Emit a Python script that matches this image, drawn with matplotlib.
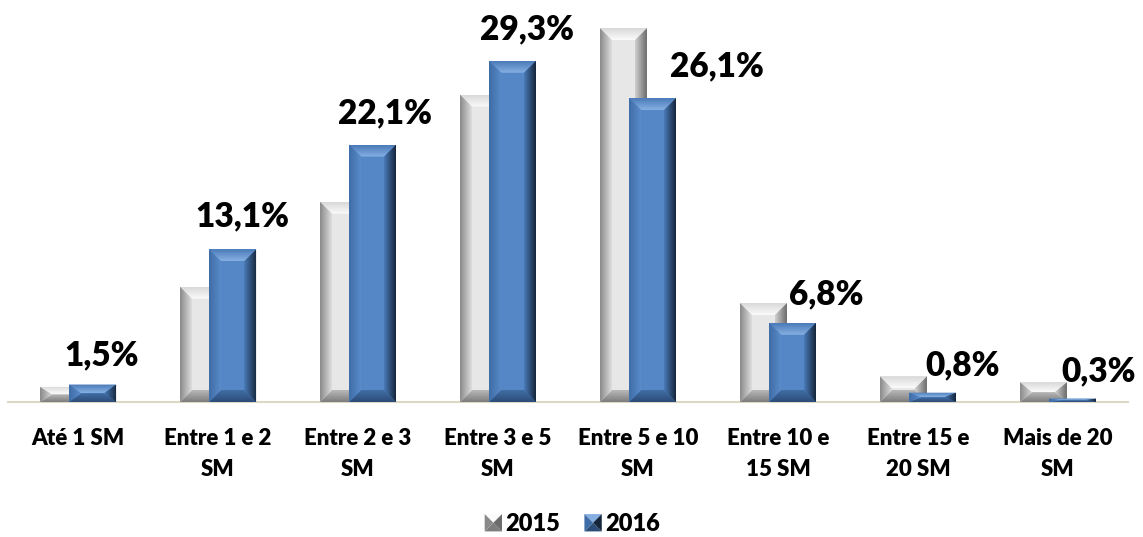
import numpy as np
import matplotlib
matplotlib.use("Agg")
import matplotlib.pyplot as plt
from matplotlib.patches import Polygon
from matplotlib.colors import LinearSegmentedColormap
from matplotlib.legend_handler import HandlerBase

plt.rcParams['font.family'] = ['Lato', 'DejaVu Sans']
plt.rcParams['font.weight'] = 'bold'

# Faixas salariais (em salários mínimos)
categories = ["Até 1 SM", "Entre 1 e 2\nSM", "Entre 2 e 3\nSM", "Entre 3 e 5\nSM",
              "Entre 5 e 10\nSM", "Entre 10 e\n15 SM", "Entre 15 e\n20 SM", "Mais de 20\nSM"]
series_names = ["2015", "2016"]
values_2015 = [1.3, 9.9, 17.2, 26.4, 32.1, 8.5, 2.2, 1.7]
values_2016 = [1.5, 13.1, 22.1, 29.3, 26.1, 6.8, 0.8, 0.3]

# label offsets in pixels (dx, dy) from the top centre of each 2016 bar
label_offsets = [(9, 31), (10, 35), (12, 33), (14, 33), (64, 34), (34, 30), (30, 29), (26, 29)]

# bevel colours: face, top (edge, inner), bottom, left (edge, inner), right (edge, inner)
styles = {
    "2015": dict(face="#e7e7e7", top=("#d8d8d8", "#fbfbfb"), bottom=("#7d7d7d", "#b8b8b8"),
                 left=("#8a8a8a", "#dedede"), right=("#6c6c6c", "#cfcfcf")),
    "2016": dict(face="#5587c6", top=("#4a7ab8", "#86b0e3"), bottom=("#2c4c78", "#416ea6"),
                 left=("#3e6ca6", "#5a8cca"), right=("#15263b", "#4a7bb8")),
}

W, H = 1143, 537
fig = plt.figure(figsize=(W / 100, H / 100), dpi=100)
ax = fig.add_axes([8 / W, 135 / H, 1120 / W, 396 / H])
ax.set_xlim(-0.5, 7.5)
ax.set_ylim(0, 34)

width = 0.336
shift = 0.104
x = np.arange(len(categories))

# bevel size in data units (about 12 px)
bev_x = 12 / 140
bev_y = 12 / (396 / 34)


def shade(ax, poly_pts, c0, c1, direction, extent, z):
    """fill a polygon with a linear gradient from c0 to c1"""
    cmap = LinearSegmentedColormap.from_list("g", [c0, c1])
    g = np.linspace(0, 1, 64)
    if direction == "lr":
        img = np.tile(g, (2, 1))
    elif direction == "rl":
        img = np.tile(g[::-1], (2, 1))
    else:
        img = np.tile(g[:, None], (1, 2))
    patch = Polygon(poly_pts, closed=True, facecolor="none", edgecolor="none")
    ax.add_patch(patch)
    im = ax.imshow(img, cmap=cmap, extent=extent, origin="upper", aspect="auto",
                   interpolation="bilinear", zorder=z)
    im.set_clip_path(patch)


def bevel_bars(ax, xs, vals, st, z):
    bars = ax.bar(xs, vals, width, color=st["face"], edgecolor="none", zorder=z)
    for b in bars:
        x0, x1 = b.get_x(), b.get_x() + b.get_width()
        h = b.get_height()
        by = min(bev_y, h / 2)
        bx = bev_x
        top = [(x0, h), (x1, h), (x1 - bx, h - by), (x0 + bx, h - by)]
        bottom = [(x0, 0), (x1, 0), (x1 - bx, by), (x0 + bx, by)]
        left = [(x0, 0), (x0 + bx, by), (x0 + bx, h - by), (x0, h)]
        right = [(x1, 0), (x1 - bx, by), (x1 - bx, h - by), (x1, h)]
        # origin='upper' -> first row at top of extent
        shade(ax, top, *st["top"], "tb", (x0, x1, h - by, h), z + 0.1)
        shade(ax, bottom, st["bottom"][1], st["bottom"][0], "tb", (x0, x1, 0, by), z + 0.1)
        shade(ax, left, *st["left"], "lr", (x0, x0 + bx, 0, h), z + 0.1)
        shade(ax, right, *st["right"], "rl", (x1 - bx, x1, 0, h), z + 0.1)
    return bars


bevel_bars(ax, x - shift, values_2015, styles["2015"], 2)
bars16 = bevel_bars(ax, x + shift, values_2016, styles["2016"], 3)

# data labels on the 2016 series
for b, v, (dx, dy) in zip(bars16, values_2016, label_offsets):
    ax.annotate(f"{v:.1f}%".replace(".", ","),
                xy=(b.get_x() + b.get_width() / 2, b.get_height()),
                xytext=(dx, dy - 12), textcoords="offset pixels",
                ha="center", va="baseline", fontsize=24, fontweight="heavy",
                color="black", zorder=5)

for s in ["top", "left", "right"]:
    ax.spines[s].set_visible(False)
ax.spines["bottom"].set_color("#ddd8c4")
ax.spines["bottom"].set_linewidth(1.5)
ax.spines["bottom"].set_zorder(1)
ax.set_yticks([])
ax.set_xticks(x)
ax.set_xticklabels(categories, fontsize=16, fontweight="heavy", linespacing=1.55)
ax.tick_params(axis="x", length=0, pad=19)


class BevelSquare(HandlerBase):
    def __init__(self, st):
        super().__init__()
        self.st = st

    def create_artists(self, legend, orig_handle, xdescent, ydescent, width, height,
                       fontsize, trans):
        s = min(width, height) * 1.05
        x0 = width - s - xdescent
        y0 = (height - s) / 2 - ydescent
        cx, cy = x0 + s / 2, y0 + s / 2
        c = [(x0, y0), (x0 + s, y0), (x0 + s, y0 + s), (x0, y0 + s)]
        st = self.st
        facets = [([c[3], c[2], (cx, cy)], st["top"][1]),
                  ([c[0], c[1], (cx, cy)], st["bottom"][0]),
                  ([c[0], c[3], (cx, cy)], st["left"][0]),
                  ([c[1], c[2], (cx, cy)], st["right"][0])]
        return [Polygon(pts, closed=True, facecolor=col, edgecolor="none", transform=trans)
                for pts, col in facets]


h15, h16 = object(), object()
fig.legend([h15, h16], series_names, loc="center", bbox_to_anchor=(571 / W, 1 - 524 / H),
           ncol=2, frameon=False, prop={"weight": "heavy", "size": 17},
           handler_map={h15: BevelSquare(styles["2015"]), h16: BevelSquare(styles["2016"])},
           handlelength=0.85, handletextpad=0.15, columnspacing=0.9)

fig.savefig("out.png", dpi=100)
